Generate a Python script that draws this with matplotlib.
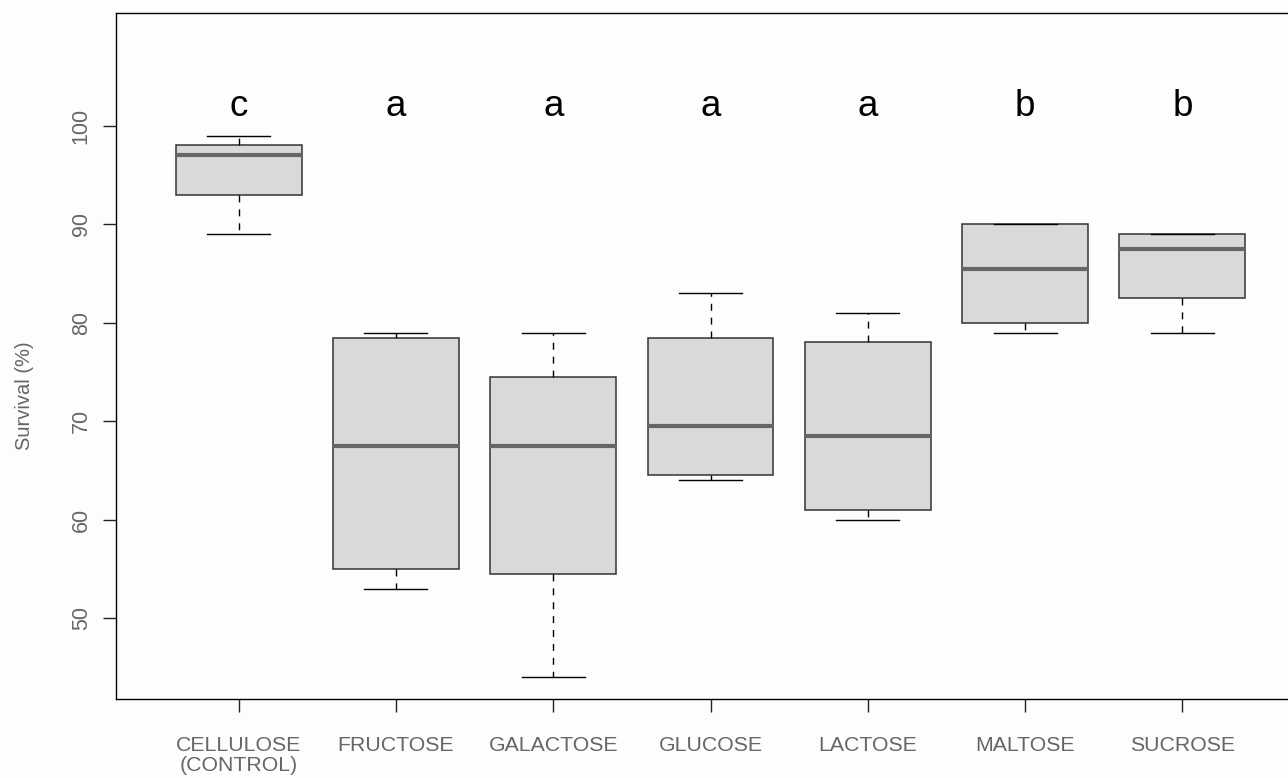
import numpy as np
import matplotlib
matplotlib.use("Agg")
import matplotlib.pyplot as plt

plt.rcParams['font.family'] = ['Liberation Sans', 'DejaVu Sans']

# Sugar treatments and their box summaries (survival, %)
groups = ["CELLULOSE\n(CONTROL)", "FRUCTOSE", "GALACTOSE", "GLUCOSE",
          "LACTOSE", "MALTOSE", "SUCROSE"]
whisk_lo = [89, 53, 44, 64, 60, 79, 79]
q1 = [93, 55, 54.5, 64.5, 61, 80, 82.5]
medians = [97, 67.5, 67.5, 69.5, 68.5, 85.5, 87.5]
q3 = [98, 78.5, 74.5, 78.5, 78, 90, 89]
whisk_hi = [99, 79, 79, 83, 81, 90, 89]
letters = ["c", "a", "a", "a", "a", "b", "b"]
yticks = [50, 60, 70, 80, 90, 100]

stats = []
for i in range(len(groups)):
    stats.append({"whislo": whisk_lo[i], "q1": q1[i], "med": medians[i],
                  "q3": q3[i], "whishi": whisk_hi[i], "fliers": []})

fig = plt.figure(figsize=(12.88, 7.78), dpi=100, facecolor="#fdfdfd")
ax = fig.add_axes([116 / 1288, 1 - 699 / 778, (1305 - 116) / 1288, (699 - 12.5) / 778])
ax.set_facecolor("#fdfdfd")

pos = np.arange(1, len(groups) + 1)
ax.bxp(stats, positions=pos, widths=0.8, capwidths=0.4, patch_artist=True,
       showfliers=False,
       boxprops=dict(facecolor="#d9d9d9", edgecolor="#333333", linewidth=1.1),
       medianprops=dict(color="#666666", linewidth=3.0, solid_capstyle="butt"),
       whiskerprops=dict(color="black", linewidth=1.0, linestyle=(0, (5, 5))),
       capprops=dict(color="black", linewidth=1.0))

# significance letters above each box
for x, s in zip(pos, letters):
    ax.text(x, 100.95, s, ha="center", va="baseline", fontsize=26.5, color="black")

ax.set_xlim(0.22, 7.78)
ax.set_ylim(41.8, 111.5)
ax.set_yticks(yticks)
ax.set_yticklabels([str(v) for v in yticks], rotation=90, va="center")
ax.set_xticks(pos)
ax.set_xticklabels(groups, linespacing=1.1)

for sp in ax.spines.values():
    sp.set_color("black")
    sp.set_linewidth(1.0)

ax.tick_params(axis="both", length=9.5, width=1.0, color="#222222",
               labelcolor="#666666")
ax.tick_params(axis="x", pad=17, labelsize=15.3)
ax.tick_params(axis="y", pad=8, labelsize=15.5)

# y axis title
fig.text(24 / 1288, 1 - 396 / 778, "Survival (%)", rotation=90, ha="center",
         va="center", color="#666666", fontsize=14.5)

fig.savefig("out.png", dpi=100, facecolor=fig.get_facecolor())
